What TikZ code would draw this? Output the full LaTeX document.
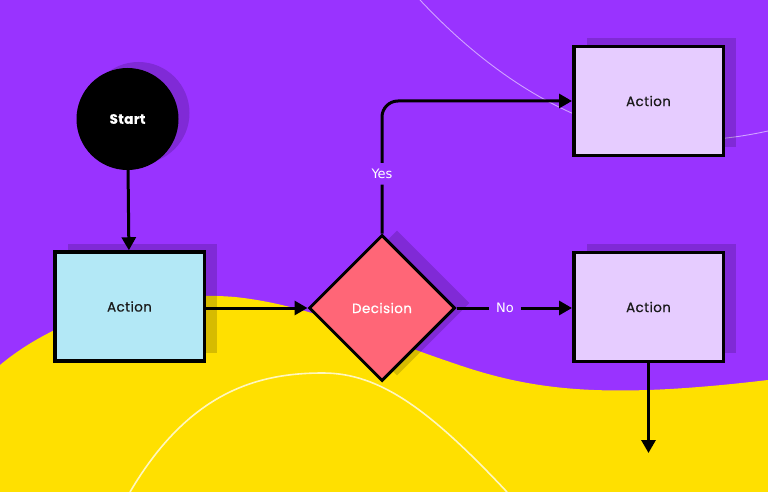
\documentclass[tikz,border=0pt]{standalone}
\usepackage{fontspec}
\setmainfont{Poppins}
\newfontfamily\nodefont[FakeBold=0.6,LetterSpace=3]{Poppins}
\newfontfamily\labelfont{DejaVu Sans}
\usetikzlibrary{arrows.meta,shapes.geometric,shadows}
\definecolor{bgpurple}{HTML}{9933FF}
\definecolor{bgyellow}{HTML}{FFE000}
\definecolor{boxcyan}{HTML}{B3E8F6}
\definecolor{boxlav}{HTML}{E6CCFF}
\definecolor{decpink}{HTML}{FF6677}
\definecolor{textdark}{HTML}{1A1A1A}
\tikzset{
  shadowed/.style={general shadow={fill=black, opacity=0.16, shadow xshift=13pt, shadow yshift=8.5pt}},
  box/.style={rectangle, draw=black, line width=3.5pt, minimum width=149.5pt, minimum height=109pt,
    inner sep=0pt, shadowed, font=\nodefont\fontsize{13.5}{16}\selectfont, text=textdark},
  startnode/.style={circle, fill=black, minimum size=102pt, inner sep=0pt,
    general shadow={fill=black, opacity=0.16, shadow xshift=11pt, shadow yshift=6pt},
    text=white, font=\nodefont\fontsize{13.5}{16}\selectfont\bfseries},
  decnode/.style={diamond, aspect=1, draw=black, line width=3pt, fill=decpink,
    minimum width=146pt, minimum height=146pt, inner sep=0pt,
    general shadow={fill=black, opacity=0.16, shadow xshift=15pt, shadow yshift=5pt},
    text=white, font=\nodefont\fontsize{13.5}{16}\selectfont},
  conn/.style={line width=3pt, draw=black, -{Triangle[length=13pt,width=14pt]}},
  lbl/.style={fill=bgpurple, text=white, font=\labelfont\fontsize{13}{15}\selectfont,
    inner xsep=7pt, inner ysep=6pt}
}
\begin{document}
\begin{tikzpicture}[x=1pt,y=-1pt]
\useasboundingbox (0,0) rectangle (768,492);
\fill[bgpurple] (0,0) rectangle (768,492);
\fill[bgyellow] (0,365) .. controls (60,315) and (150,290) .. (235,297)
  .. controls (310,305) and (370,335) .. (450,362)
  .. controls (530,390) and (600,400) .. (768,380) -- (768,492) -- (0,492) -- cycle;
\draw[white, opacity=0.75, line width=1.6pt] (130,492) .. controls (190,390) and (260,373) .. (323,373)
  .. controls (380,373) and (430,410) .. (507,492);
\draw[white, opacity=0.55, line width=0.9pt] (420,0) .. controls (490,75) and (580,135) .. (680,140)
  .. controls (715,141) and (745,136) .. (768,131);

\node[startnode] (start) at (127.5,119) {Start};
\node[box, fill=boxcyan] (act1) at (129.5,306.5) {Action};
\node[decnode] (dec) at (382,308) {Decision};
\node[box, fill=boxlav] (act2) at (648.5,101) {Action};
\node[box, fill=boxlav] (act3) at (648.5,307) {Action};
\coordinate (end) at (648.5,453);

\draw[conn] (start) -- (act1);
\draw[conn] (act1.east |- dec.west) -- (dec.west);
\draw[conn, rounded corners=16pt] (dec.north) |- node[lbl, pos=0.225] {Yes} (act2.west);
\draw[conn] (dec.east) -- node[lbl, pos=0.42] {No} (act3.west |- dec.east);
\draw[conn] (act3.south) -- (end);
\end{tikzpicture}
\end{document}
